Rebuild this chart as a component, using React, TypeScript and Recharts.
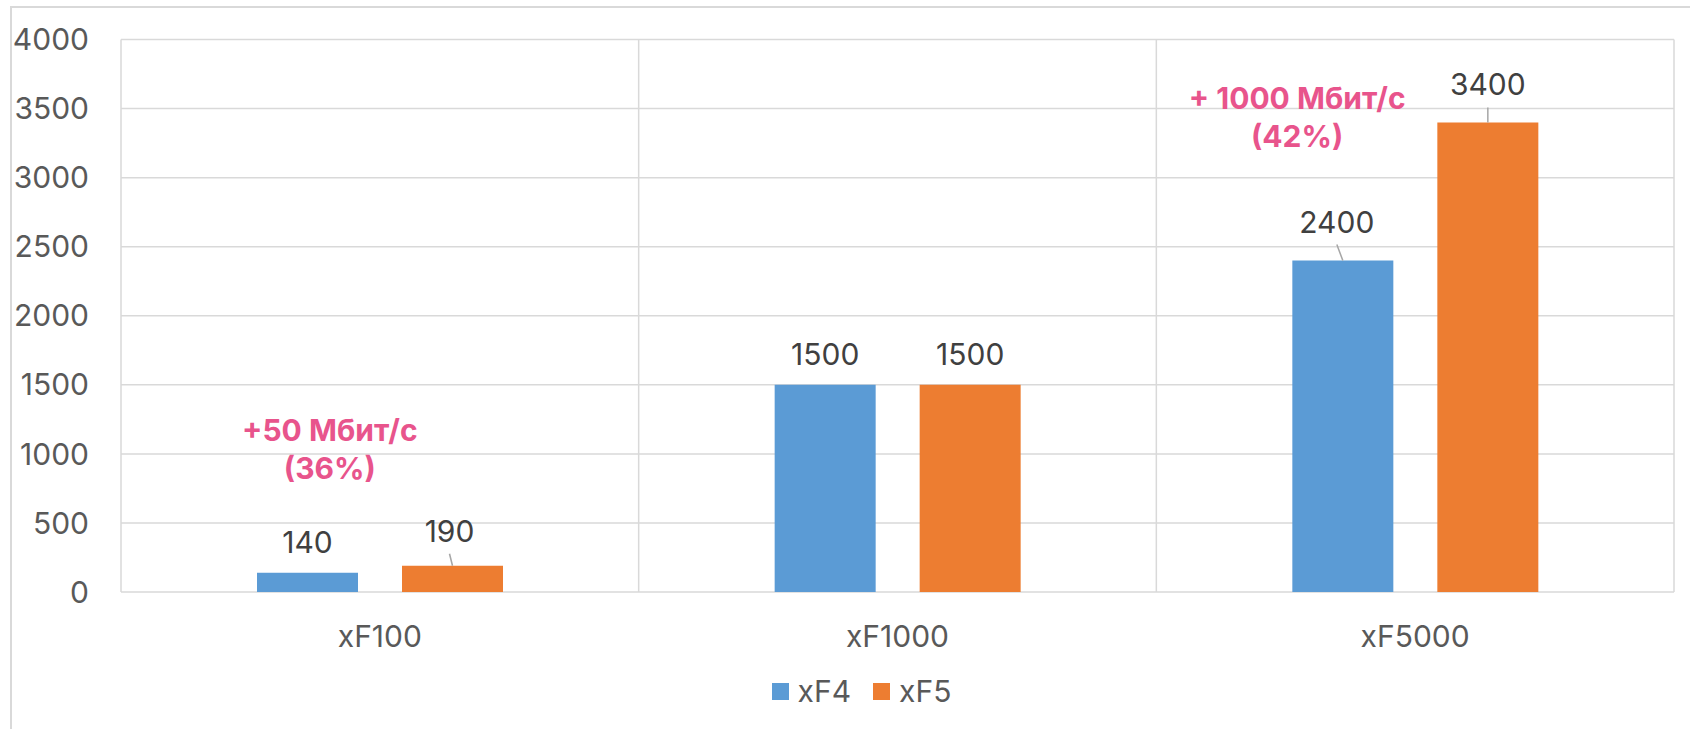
import { Bar, BarChart, CartesianGrid, LabelList, Legend, ReferenceDot, XAxis, YAxis } from "recharts";

const categories = ["xF100", "xF1000", "xF5000"];
const xf4Values = [140, 1500, 2400];
const xf5Values = [190, 1500, 3400];
const seriesNames = ["xF4", "xF5"];
const yTicks = [0, 500, 1000, 1500, 2000, 2500, 3000, 3500, 4000];

// pink call-outs above the groups
const noteCategories = ["xF100", "xF5000"];
const noteLevels = [1090, 3500];
const noteLines = [
  ["+50 Мбит/с", "(36%)"],
  ["+ 1000 Мбит/с", "(42%)"],
];

const data = categories.map((category, i) => ({
  category,
  xf4: xf4Values[i],
  xf5: xf5Values[i],
}));

const BLUE = "#5B9BD5";
const ORANGE = "#ED7D31";
const GRID = "#D9D9D9";
const PINK = "#E8548C";
const FONT = "Inter, 'Noto Sans', sans-serif";

// label nudges (dx, dy) per series and category, like Excel's dragged labels
const labelNudge: Record<string, [number, number][]> = {
  xf4: [[0, 0], [0, 0], [-6, -8]],
  xf5: [[-3, -4], [0, 0], [0, -7]],
};
const noteShift = [-50, -118];

function DataLabel(props: any) {
  const { series } = props;
  const vb = props.viewBox || props;
  const index = props.index ?? 0;
  const [dx, dy] = labelNudge[series][index] || [0, 0];
  const barCx = vb.x + vb.width / 2;
  const barTop = vb.y;
  const lx = barCx + dx;
  const baseline = barTop - 20 + dy;
  return (
    <g>
      {dy !== 0 && (
        <line x1={lx} y1={baseline + 12} x2={barCx} y2={barTop} stroke="#A6A6A6" strokeWidth={1.5} />
      )}
      <text x={lx} y={baseline} textAnchor="middle" fill="#404040" fontSize={30}>
        {props.value}
      </text>
    </g>
  );
}

function Note({ cx, cy, lines, shift }: any) {
  return (
    <g>
      {lines.map((line: string, i: number) => (
        <text
          key={line}
          x={cx + shift}
          y={cy + i * 38}
          textAnchor="middle"
          fill={PINK}
          fontSize={30}
          fontWeight={700}
        >
          {line}
        </text>
      ))}
    </g>
  );
}

function LegendContent({ payload }: any) {
  return (
    <div style={{ display: "flex", justifyContent: "center", alignItems: "center", paddingLeft: 33 }}>
      {(payload || []).map((item: any, i: number) => (
        <div key={item.value} style={{ display: "flex", alignItems: "center", marginRight: i === 0 ? 22 : 0 }}>
          <span style={{ width: 17, height: 17, background: item.color, display: "inline-block", marginRight: 9 }} />
          <span style={{ fontSize: 30, lineHeight: "36px", color: "#595959" }}>{item.value}</span>
        </div>
      ))}
    </div>
  );
}

export default function App() {
  return (
    <div style={{ position: "relative", width: 1690, height: 729, fontFamily: FONT, overflow: "hidden" }}>
      <style>{"body{margin:0}"}</style>
      <div
        style={{
          position: "absolute",
          left: 10,
          top: 6,
          width: 1690,
          height: 729,
          borderTop: `2px solid ${GRID}`,
          borderLeft: `2px solid ${GRID}`,
        }}
      />
      <div style={{ position: "absolute", left: 0, top: 0 }}>
        <BarChart
          width={1690}
          height={729}
          data={data}
          margin={{ top: 39.5, right: 16, bottom: 97, left: 21 }}
          barGap={44}
          barSize={101}
        >
          <CartesianGrid
            stroke={GRID}
            strokeWidth={1.5}
            verticalCoordinatesGenerator={({ offset }: any) =>
              [...categories, ""].map((_, i) => offset.left + (i * offset.width) / categories.length)
            }
          />
          <XAxis
            dataKey="category"
            interval={0}
            axisLine={false}
            tickLine={false}
            tickSize={0}
            tickMargin={34}
            height={40}
            tick={{ fill: "#595959", fontSize: 30 }}
          />
          <YAxis
            domain={[0, 4000]}
            ticks={yTicks}
            interval={0}
            axisLine={false}
            tickLine={false}
            tickSize={0}
            tickMargin={32}
            width={100}
            tick={{ fill: "#595959", fontSize: 30 }}
          />
          <Legend
            verticalAlign="middle"
            align="center"
            wrapperStyle={{ top: 673, left: 0, width: 1690 }}
            content={(p: any) => <LegendContent {...p} />}
          />
          <Bar dataKey="xf4" name={seriesNames[0]} fill={BLUE} isAnimationActive={false}>
            <LabelList dataKey="xf4" content={(p: any) => <DataLabel {...p} series="xf4" />} />
          </Bar>
          <Bar dataKey="xf5" name={seriesNames[1]} fill={ORANGE} isAnimationActive={false}>
            <LabelList dataKey="xf5" content={(p: any) => <DataLabel {...p} series="xf5" />} />
          </Bar>
          {noteCategories.map((cat, i) => (
            <ReferenceDot
              key={cat}
              x={cat}
              y={noteLevels[i]}
              r={0}
              ifOverflow="visible"
              shape={(p: any) => <Note cx={p.cx} cy={p.cy} lines={noteLines[i]} shift={noteShift[i]} />}
            />
          ))}
        </BarChart>
      </div>
    </div>
  );
}
